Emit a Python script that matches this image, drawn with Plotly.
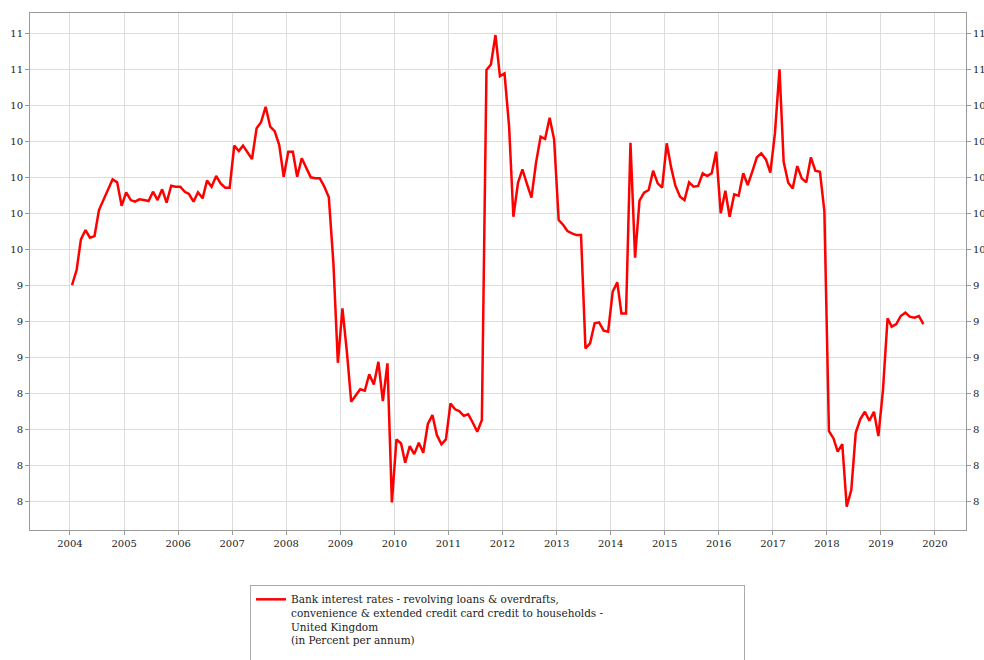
import pandas as pd
import plotly.graph_objects as go

# Monthly observations, Jan 2004 .. Oct 2019 (plotted mid-month)
months = pd.date_range("2004-01-01", "2019-10-01", freq="MS") + pd.Timedelta(days=14)

rates = [
    9.25, 9.354, 9.567, 9.632, 9.579, 9.59, 9.771, 9.84, 9.917, 9.984, 9.963, 9.80,
    9.894, 9.84, 9.829, 9.845, 9.84, 9.833, 9.898, 9.84, 9.915, 9.822, 9.94, 9.933,
    9.933, 9.898, 9.882, 9.829, 9.894, 9.852, 9.975, 9.933, 10.007, 9.956, 9.926, 9.926,
    10.218, 10.181, 10.218, 10.171, 10.125, 10.338, 10.38, 10.488, 10.35, 10.319, 10.222, 10.002,
    10.176, 10.176, 10.002, 10.13, 10.067, 9.998, 9.991, 9.991, 9.933, 9.859, 9.40, 8.71,
    9.088, 8.776, 8.44, 8.486, 8.526, 8.516, 8.63, 8.56, 8.717, 8.444, 8.706, 7.741,
    8.178, 8.15, 8.016, 8.132, 8.076, 8.155, 8.085, 8.285, 8.347, 8.208, 8.144, 8.178,
    8.428, 8.387, 8.375, 8.342, 8.352, 8.294, 8.231, 8.313, 10.743, 10.782, 10.986, 10.70,
    10.72, 10.35, 9.724, 9.96, 10.053, 9.951, 9.857, 10.10, 10.28, 10.264, 10.412, 10.262,
    9.701, 9.667, 9.625, 9.609, 9.597, 9.597, 8.81, 8.845, 8.984, 8.991, 8.933, 8.926,
    9.204, 9.269, 9.053, 9.053, 10.238, 9.44, 9.836, 9.891, 9.91, 10.044, 9.956, 9.926,
    10.234, 10.06, 9.938, 9.863, 9.84, 9.963, 9.933, 9.938, 10.026, 10.007, 10.026, 10.176,
    9.748, 9.905, 9.724, 9.88, 9.87, 10.026, 9.944, 10.037, 10.137, 10.164, 10.122, 10.03,
    10.303, 10.748, 10.106, 9.96, 9.921, 10.076, 9.991, 9.963, 10.137, 10.044, 10.037, 9.764,
    8.236, 8.185, 8.093, 8.146, 7.711, 7.826, 8.224, 8.319, 8.37, 8.308, 8.37, 8.201,
    8.521, 9.019, 8.961, 8.979, 9.035, 9.058, 9.03, 9.023, 9.035, 8.979,
]

y_tick_values = [11.0, 10.75, 10.5, 10.25, 10.0, 9.75, 9.5, 9.25, 9.0, 8.75, 8.5, 8.25, 8.0, 7.75]
y_tick_labels = [f"{v:.0f}" for v in y_tick_values]

series_name = ("Bank interest rates - revolving loans & overdrafts,<br>"
               "convenience & extended credit card credit to households -<br>"
               "United Kingdom<br>"
               "(in Percent per annum)<br> ")

FONT = "DejaVu Serif"
AXIS_COLOR = "#9a9a9a"
GRID_COLOR = "#dcdcdc"
TEXT_COLOR = "#222222"

fig = go.Figure()
fig.add_trace(go.Scatter(
    x=months, y=rates, mode="lines", name=series_name,
    line=dict(color="#ff0000", width=2.5),
))
# same series on the mirrored right-hand axis (invisible) so the right labels render
fig.add_trace(go.Scatter(
    x=months, y=rates, mode="lines", yaxis="y2", showlegend=False,
    line=dict(color="rgba(0,0,0,0)", width=0), hoverinfo="skip",
))

yrange = [7.549, 11.139]
common_y = dict(
    range=yrange, tickmode="array", tickvals=y_tick_values, ticktext=y_tick_labels,
    ticks="outside", ticklen=4, tickcolor=AXIS_COLOR,
    tickfont=dict(family=FONT, size=10, color=TEXT_COLOR),
    linecolor=AXIS_COLOR, linewidth=1, zeroline=False, automargin=False,
)

fig.update_layout(
    width=984, height=660,
    margin=dict(l=30, r=18, t=13, b=130, autoexpand=False),
    paper_bgcolor="white", plot_bgcolor="white",
    font=dict(family=FONT, size=10, color=TEXT_COLOR),
    xaxis=dict(
        range=["2003-04-06", "2020-07-29"], type="date",
        tick0="2004-01-01", dtick="M12", tickformat="%Y",
        ticks="outside", ticklen=4, tickcolor=AXIS_COLOR,
        tickfont=dict(family=FONT, size=10, color=TEXT_COLOR),
        showgrid=True, gridcolor=GRID_COLOR, gridwidth=1,
        linecolor=AXIS_COLOR, linewidth=1, mirror=True, zeroline=False,
        automargin=False,
    ),
    yaxis=dict(showgrid=True, gridcolor=GRID_COLOR, gridwidth=1, mirror=True, side="left", **common_y),
    yaxis2=dict(showgrid=False, overlaying="y", side="right", **common_y),
    showlegend=True,
    legend=dict(
        x=(250 - 30) / 936, y=(530 - 585) / 517, xanchor="left", yanchor="top",
        bordercolor="#aaaaaa", borderwidth=1, bgcolor="white",
        font=dict(family=FONT, size=10.5, color=TEXT_COLOR),
        valign="top", orientation="h", entrywidth=448, entrywidthmode="pixels",
        itemwidth=30,
    ),
)

fig.write_html(
    "out.html",
    config={"displayModeBar": False},
    post_script="document.body.style.margin='0';document.body.style.overflow='hidden';",
)
